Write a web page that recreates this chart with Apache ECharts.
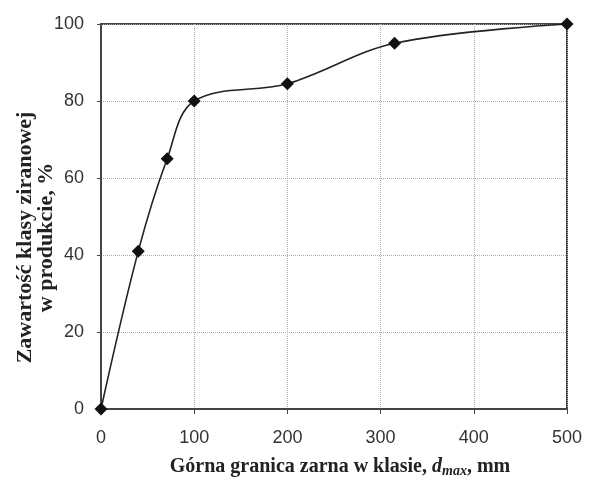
<!DOCTYPE html>
<html>
<head>
<meta charset="utf-8">
<script src="https://cdn.jsdelivr.net/npm/echarts@6/dist/echarts.min.js"></script>
<style>
  html, body { margin: 0; padding: 0; background: #fff; }
  #chart { width: 607px; height: 496px; }
</style>
</head>
<body>
<div id="chart"></div>
<script>
// górna granica ziarna d_max [mm] i zawartość klasy [%]
const dMax = [0, 40, 71, 100, 200, 315, 500]
const content = [0, 41, 65, 80, 84.5, 95, 100]

const frameColor = '#444'
const labelFont = 'Liberation Sans, Arial, sans-serif'
const nameFont = 'Liberation Serif, Times New Roman, serif'

const chart = echarts.init(document.getElementById('chart'))
chart.setOption({
  animation: false,
  grid: {
    left: 101,
    right: 40,
    top: 24,
    bottom: 87,
    containLabel: false,
    outerBoundsMode: 'none',
    show: true,
    borderColor: frameColor,
    borderWidth: 2
  },
  xAxis: {
    type: 'value',
    min: 0,
    max: 500,
    interval: 100,
    axisLine: { lineStyle: { color: frameColor, width: 2 } },
    axisTick: { show: true, inside: false, length: 5, lineStyle: { color: frameColor } },
    axisLabel: { color: '#333', fontSize: 18, fontFamily: labelFont, margin: 20 },
    splitLine: { lineStyle: { color: '#b0aaa5', type: 'dotted', width: 1 } },
    name: '{b|Górna granica zarna w klasie, }{i|d}{sub|max}{b|, mm}',
    nameLocation: 'middle',
    nameGap: 46,
    nameTextStyle: {
      padding: [0, 0, 0, 12],
      rich: {
        b: { fontFamily: nameFont, fontWeight: 'bold', fontSize: 20, color: '#222' },
        i: { fontFamily: nameFont, fontWeight: 'bold', fontStyle: 'italic', fontSize: 20, color: '#222' },
        sub: { fontFamily: nameFont, fontWeight: 'bold', fontStyle: 'italic', fontSize: 14, color: '#222', padding: [9, 0, 0, 0] }
      }
    }
  },
  yAxis: {
    type: 'value',
    min: 0,
    max: 100,
    interval: 20,
    axisLine: { lineStyle: { color: frameColor, width: 2 } },
    axisTick: { show: true, length: 4, lineStyle: { color: frameColor } },
    axisLabel: { color: '#333', fontSize: 18, fontFamily: labelFont, margin: 17 },
    splitLine: { lineStyle: { color: '#b0aaa5', type: 'dotted', width: 1 } },
    name: 'Zawartość klasy ziranowej\nw produkcie, %',
    nameLocation: 'middle',
    nameRotate: 90,
    nameGap: 44,
    nameMoveOverlap: false,
    nameTextStyle: {
      fontFamily: nameFont,
      fontWeight: 'bold',
      fontSize: 22,
      color: '#222',
      lineHeight: 21,
      padding: [0, 42, 0, 0]
    }
  },
  series: [{
    type: 'line',
    data: dMax.map((d, i) => [d, content[i]]),
    smooth: 0.35,
    symbol: 'diamond',
    symbolSize: 13,
    itemStyle: { color: '#111' },
    lineStyle: { color: '#222', width: 1.6 }
  }]
})
</script>
</body>
</html>
